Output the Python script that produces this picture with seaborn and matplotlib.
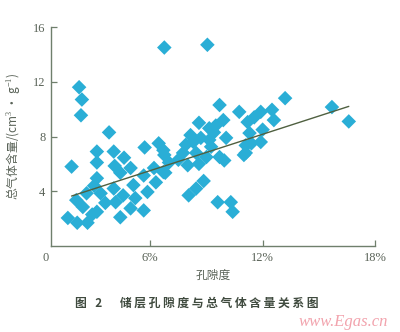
import matplotlib
matplotlib.use("Agg")
import matplotlib.pyplot as plt
import seaborn as sns
import pandas as pd
import numpy as np

# porosity (%) and total gas content (cm3/g)
porosity = [1.8, 2.2, 2.35, 2.3, 3.8, 3.15, 4.05, 4.6, 5.7, 6.45,
            3.15, 4.1, 4.95, 4.4, 3.15, 5.65, 6.2, 6.8, 6.3, 5.85,
            5.1, 4.05, 3.35, 2.6, 2.05, 2.4, 3.15, 3.6, 4.15, 4.55,
            5.2, 4.95, 5.65, 4.4, 1.6, 2.1, 2.65, 6.75, 9.05, 2.9,
            6.7, 6.75, 7.75, 8.0, 6.7, 7.0, 9.7, 10.75, 8.6, 9.9,
            9.5, 11.2, 9.15, 8.15, 8.7, 9.15, 10.05, 11.3, 8.45, 9.25,
            9.7, 9.0, 11.1, 11.0, 9.95, 8.05, 8.45, 8.85, 9.6, 10.3,
            10.4, 7.5, 8.6, 13.2, 15.7, 16.6, 12.5, 11.9, 11.55, 12.6,
            12.0, 11.9, 11.4, 11.1, 7.9, 3.0, 8.3, 9.4]
gas = [5.8, 11.6, 10.7, 9.55, 8.3, 6.9, 6.9, 6.45, 7.2, 7.5,
       6.1, 5.85, 5.7, 5.35, 4.95, 5.15, 5.7, 5.35, 4.65, 3.95,
       4.45, 4.2, 3.85, 3.85, 3.35, 2.85, 2.5, 3.15, 3.2, 3.7,
       3.5, 2.75, 2.6, 2.1, 2.05, 1.7, 1.7, 14.5, 14.7, 2.3,
       7.0, 6.65, 6.8, 5.9, 5.4, 6.1, 10.3, 9.8, 9.0, 9.2,
       8.8, 9.05, 8.6, 8.1, 7.9, 7.75, 7.9, 8.25, 6.8, 7.25,
       6.5, 6.5, 7.35, 6.65, 6.25, 3.7, 4.2, 4.75, 3.2, 3.2,
       2.5, 6.3, 6.0, 10.8, 10.15, 9.1, 9.95, 9.8, 9.4, 9.2,
       8.5, 7.6, 7.5, 6.8, 7.4, 4.4, 7.6, 8.3]

trend_x = [1.8, 16.6]
trend_y = [3.65, 10.2]

y_ticks = [4, 8, 12, 16]
x_ticks = [6, 12, 18]
x_tick_labels = ["6%", "12%", "18%"]

df = pd.DataFrame({"porosity": porosity, "gas": gas})
tdf = pd.DataFrame({"x": trend_x, "y": trend_y})

sns.set_theme(style="ticks")
plt.rcParams["font.family"] = ["Liberation Serif", "Noto Sans CJK SC", "DejaVu Sans"]
plt.rcParams["mathtext.fontset"] = "custom"
plt.rcParams["mathtext.rm"] = "Liberation Serif"

axis_col = "#6f7f6c"
text_col = "#5a6358"

fig = plt.figure(figsize=(4.0, 3.32), dpi=100)
ax = fig.add_axes([51/400, 1-246/332, (375-51)/400, (246-27)/332])

sns.scatterplot(data=df, x="porosity", y="gas", marker="D", s=55,
                color="#2aaed6", edgecolor="none", linewidth=0, ax=ax, zorder=3)
sns.lineplot(data=tdf, x="x", y="y", color="#4f6040", linewidth=1.0, ax=ax, zorder=4)

ax.set_xlim(0.7, 18.0)
ax.set_ylim(0, 16)
ax.set_xticks(x_ticks)
ax.set_xticklabels(x_tick_labels)
ax.set_yticks(y_ticks)
ax.tick_params(direction="in", length=4, width=0.9, color=axis_col,
               labelcolor=text_col, labelsize=9, pad=4)
for s in ["top", "right"]:
    ax.spines[s].set_visible(False)
for s in ["left", "bottom"]:
    ax.spines[s].set_color(axis_col)
    ax.spines[s].set_linewidth(1.0)

ax.text(46/400, 1-258/332, "0", transform=fig.transFigure, ha="center", va="center",
        fontsize=9, color=text_col)

ax.set_xlabel("孔隙度", family=["Noto Sans CJK SC", "DejaVu Sans"], fontsize=8.5,
              color=text_col, labelpad=4)
ax.set_ylabel("总气体含量/(cm$^3$ · g$^{-1}$)", family=["Noto Sans CJK SC", "DejaVu Sans"],
              fontsize=8.5, color=text_col, labelpad=8)

fig.text(197/400, 1-303/332, "图\u2002 2\u2003\u2002储 层 孔 隙 度 与 总 气 体 含 量 关 系 图",
         family=["Noto Sans CJK SC", "DejaVu Sans"], fontsize=8.5, fontweight="bold",
         color="#3f4a3e", ha="center", va="center")
fig.text(343/400, 1-322/332, "www.Egas.cn", family=["Liberation Serif"], style="italic",
         fontsize=12, color="#f2a3ad", ha="center", va="center")

fig.savefig("out.png", dpi=100)
